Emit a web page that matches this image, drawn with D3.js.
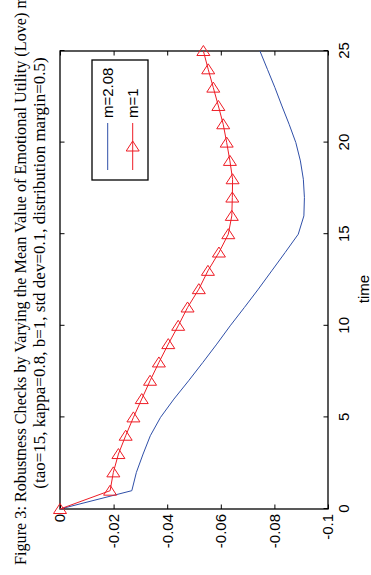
<!DOCTYPE html>
<html><head><meta charset="utf-8">
<script src="https://cdn.jsdelivr.net/npm/d3@7"></script>
<style>body{margin:0;background:#fff}svg{display:block}</style>
</head><body><svg id="c" width="371" height="575"></svg>
<script>
const time = [0,1,2,3,4,5,6,7,8,9,10,11,12,13,14,15,16,17,18,19,20,21,22,23,24,25];
const seriesM208 = [0,-0.0268,-0.0285,-0.031,-0.0337,-0.0375,-0.0425,-0.048,-0.0533,-0.0585,-0.0635,-0.0688,-0.074,-0.079,-0.084,-0.0889,-0.0910,-0.0912,-0.0908,-0.0897,-0.0880,-0.0855,-0.0828,-0.0802,-0.0774,-0.0746];
const seriesM1 = [0,-0.0187,-0.0199,-0.0218,-0.0245,-0.0274,-0.0305,-0.0336,-0.0369,-0.0404,-0.0441,-0.0476,-0.0518,-0.0552,-0.0593,-0.0628,-0.0641,-0.0643,-0.0644,-0.0634,-0.0622,-0.0609,-0.0591,-0.0572,-0.0553,-0.0535];
const timeTicks = [0,5,10,15,20,25];
const valueTicks = [0,-0.02,-0.04,-0.06,-0.08,-0.1];
const valueTickLabels = ["0","-0.02","-0.04","-0.06","-0.08","-0.1"];
const legendLabels = ["m=2.08","m=1"];
const titleLines = ["Figure 3: Robustness Checks by Varying the Mean Value of Emotional Utility (Love) m",
                    "(tao=15, kappa=0.8, b=1, std dev=0.1, distribution margin=0.5)"];
const xLabel = "time";

const BLUE = "#2f4fa8", RED = "#ee1c25";
const W = 458, H = 268;
const svg = d3.select("#c");
svg.append("rect").attr("width",371).attr("height",575).attr("fill","#fff");

// plot drawn in the original orientation, then rotated 90° counter-clockwise
const g = svg.append("g").attr("transform","translate(60,509) rotate(-90)");
const x = d3.scaleLinear().domain([0,25]).range([0,W]);
const y = d3.scaleLinear().domain([-0.1,0]).range([H,0]);
const fmtVal = d => valueTickLabels[valueTicks.indexOf(d)];

function styleAxis(sel){
  sel.attr("font-family","Arial, 'Liberation Sans', Helvetica, sans-serif").attr("font-size",15);
  sel.select(".domain").remove();
  sel.selectAll(".tick line").attr("stroke","#000").attr("stroke-width",1);
  sel.selectAll(".tick text").attr("fill","#000");
}
g.append("g").attr("transform",`translate(0,${H})`)
  .call(d3.axisBottom(x).tickValues(timeTicks).tickSizeInner(-4.5).tickSizeOuter(0).tickPadding(10).tickFormat(d3.format("d")))
  .call(styleAxis);
g.append("g")
  .call(d3.axisTop(x).tickValues(timeTicks).tickSizeInner(-4.5).tickSizeOuter(0).tickFormat(""))
  .call(styleAxis);
g.append("g")
  .call(d3.axisLeft(y).tickValues(valueTicks).tickSizeInner(-4.5).tickSizeOuter(0).tickPadding(5).tickFormat(fmtVal))
  .call(styleAxis);
g.append("g").attr("transform",`translate(${W},0)`)
  .call(d3.axisRight(y).tickValues(valueTicks).tickSizeInner(-4.5).tickSizeOuter(0).tickFormat(""))
  .call(styleAxis);

g.append("rect").attr("x",0).attr("y",0).attr("width",W).attr("height",H)
  .attr("fill","none").attr("stroke","#000").attr("stroke-width",1.3);

const line = d3.line().x((d,i)=>x(time[i])).y(d=>y(d));
g.append("path").datum(seriesM208).attr("d",line).attr("fill","none").attr("stroke",BLUE).attr("stroke-width",1);
g.append("path").datum(seriesM1).attr("d",line).attr("fill","none").attr("stroke",RED).attr("stroke-width",1);

// triangle marker (apex up in the final picture -> pointing +x before rotation)
const tri = "M0,-5.5L6.5,4.5L-6.5,4.5Z";
g.selectAll(".mk").data(seriesM1).enter().append("path")
  .attr("d",tri)
  .attr("transform",(d,i)=>`translate(${x(time[i])},${y(d)}) rotate(90)`)
  .attr("fill","none").attr("stroke",RED).attr("stroke-width",1);

// x label
g.append("text").attr("x",x(12.5)-9).attr("y",H+41)
  .attr("text-anchor","middle").attr("font-family","Arial, 'Liberation Sans', sans-serif")
  .attr("font-size",15).text(xLabel);

// legend
const lg = g.append("g");
lg.append("rect").attr("x",329).attr("y",32).attr("width",120).attr("height",56)
  .attr("fill","#fff").attr("stroke","#000").attr("stroke-width",1.3);
const lgColors = [BLUE, RED];
legendLabels.forEach((lab,i)=>{
  const yy = 47.7 + i*25;
  lg.append("line").attr("x1",339).attr("x2",386).attr("y1",yy).attr("y2",yy)
    .attr("stroke",lgColors[i]).attr("stroke-width",1);
  if(i===1) lg.append("path").attr("d",tri).attr("transform",`translate(362.5,${yy}) rotate(90)`)
    .attr("fill","none").attr("stroke",RED).attr("stroke-width",1);
  lg.append("text").attr("x",391).attr("y",yy).attr("dy","0.35em")
    .attr("font-family","Arial, 'Liberation Sans', sans-serif").attr("font-size",15).text(lab);
});

// title (rotated)
const tg = svg.append("g").attr("transform","rotate(-90)");
tg.append("text").attr("x",-565).attr("y",26).attr("text-anchor","start")
  .attr("font-family","'Times New Roman', 'Liberation Serif', serif").attr("font-size",16.2).text(titleLines[0]);
tg.append("text").attr("x",-273).attr("y",45).attr("text-anchor","middle")
  .attr("font-family","'Times New Roman', 'Liberation Serif', serif").attr("font-size",17).text(titleLines[1]);
</script></body></html>
